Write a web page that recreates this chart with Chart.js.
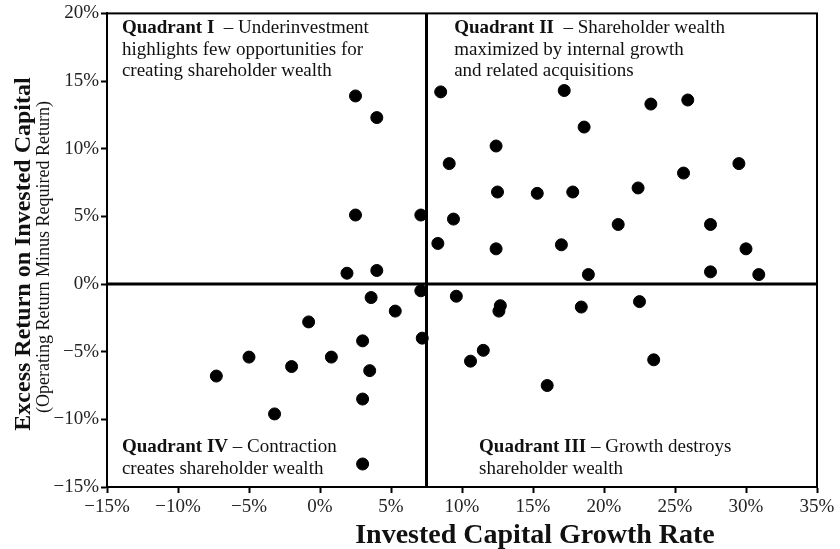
<!DOCTYPE html>
<html>
<head>
<meta charset="utf-8">
<script src="https://cdn.jsdelivr.net/npm/chart.js@4/dist/chart.umd.min.js"></script>
<style>
  body { margin: 0; background: #fff; }
</style>
</head>
<body>
<canvas id="quadrant-chart" width="840" height="549"></canvas>
<script>
// invested capital growth rate (%) and excess return (%), one entry per company
const growthRates = [
  2.5, 4.0, 2.5, 7.1, 1.9, 4.0,
  8.5, 17.2, 23.3, 25.9, 18.6, 12.4, 9.1, 29.5, 25.6, 12.5, 15.3, 17.8, 22.4,
  9.4, 21.0, 27.5, 8.3, 12.4, 17.0, 30.0, 18.9, 27.5, 30.9,
  9.6, 12.7, 12.6, 18.4, 22.5, 11.5, 10.6, 23.5, 16.0,
  7.1, 3.6, 5.3, -0.8, 3.0, 7.2, -5.0, 0.8, -2.0, 3.5, -7.3, 3.0, -3.2, 3.0
];
const excessReturns = [
  13.9, 12.3, 5.1, 5.1, 0.8, 1.0,
  14.2, 14.3, 13.3, 13.6, 11.6, 10.2, 8.9, 8.9, 8.2, 6.8, 6.7, 6.8, 7.1,
  4.8, 4.4, 4.4, 3.0, 2.6, 2.9, 2.6, 0.7, 0.9, 0.7,
  -0.9, -1.6, -2.0, -1.7, -1.3, -4.9, -5.7, -5.6, -7.5,
  -0.5, -1.0, -2.0, -2.8, -4.2, -4.0, -5.4, -5.4, -6.1, -6.4, -6.8, -8.5, -9.6, -13.3
];

const xTicks = [-15, -10, -5, 0, 5, 10, 15, 20, 25, 30, 35];
const yTicks = [-15, -10, -5, 0, 5, 10, 15, 20];

const xSplit = 7.5;   // vertical quadrant divider
const ySplit = 0;     // horizontal quadrant divider

const quadrantNotes = [
  { bold: 'Quadrant I', rest: ['  \u2013 Underinvestment', 'highlights few opportunities for', 'creating shareholder wealth'], x: -13.95, y: 18.55 },
  { bold: 'Quadrant II', rest: ['  \u2013 Shareholder wealth', 'maximized by internal growth', 'and related acquisitions'], x: 9.45, y: 18.55 },
  { bold: 'Quadrant IV', rest: [' \u2013 Contraction', 'creates shareholder wealth'], x: -13.95, y: -12.4 },
  { bold: 'Quadrant III', rest: [' \u2013 Growth destroys', 'shareholder wealth'], x: 11.2, y: -12.4 }
];

const points = growthRates.map((g, i) => ({ x: g, y: excessReturns[i] }));
const serif = '"Liberation Serif", "DejaVu Serif", serif';
const pct = v => (v < 0 ? '\u2212' + Math.abs(v) : v) + '%';

const quadrantPlugin = {
  id: 'quadrants',
  beforeDatasetsDraw(chart) {
    const { ctx, chartArea: a, scales } = chart;
    const px = scales.x.getPixelForValue(xSplit);
    const py = scales.y.getPixelForValue(ySplit);
    ctx.save();
    ctx.strokeStyle = '#000';
    ctx.lineWidth = 2;
    ctx.strokeRect(a.left, a.top, a.right - a.left, a.bottom - a.top);
    ctx.lineWidth = 3;
    ctx.beginPath();
    ctx.moveTo(px, a.top); ctx.lineTo(px, a.bottom);
    ctx.moveTo(a.left, py); ctx.lineTo(a.right, py);
    ctx.stroke();
    ctx.restore();
  },
  afterDraw(chart) {
    const { ctx, scales } = chart;
    ctx.save();
    ctx.fillStyle = '#111';
    ctx.textBaseline = 'alphabetic';
    ctx.textAlign = 'left';
    quadrantNotes.forEach(n => {
      const x = scales.x.getPixelForValue(n.x);
      let y = scales.y.getPixelForValue(n.y);
      ctx.font = 'bold 19px ' + serif;
      ctx.fillText(n.bold, x, y);
      const w = ctx.measureText(n.bold).width;
      ctx.font = '19px ' + serif;
      ctx.fillText(n.rest[0], x + w, y);
      for (let i = 1; i < n.rest.length; i++) {
        y += 21.7;
        ctx.fillText(n.rest[i], x, y);
      }
    });

    // axis titles
    ctx.textAlign = 'center';
    ctx.font = 'bold 28px ' + serif;
    ctx.fillText('Invested Capital Growth Rate', 535, 543);

    ctx.save();
    ctx.translate(30, 254);
    ctx.rotate(-Math.PI / 2);
    ctx.font = 'bold 24px ' + serif;
    ctx.fillText('Excess Return on Invested Capital', 0, 0);
    ctx.restore();
    ctx.save();
    ctx.translate(49, 257);
    ctx.rotate(-Math.PI / 2);
    ctx.font = '18px ' + serif;
    ctx.fillText('(Operating Return Minus Required Return)', 0, 0);
    ctx.restore();
    ctx.restore();
  }
};

const tickFont = { family: serif, size: 19 };

new Chart(document.getElementById('quadrant-chart'), {
  type: 'scatter',
  data: {
    datasets: [{
      data: points,
      backgroundColor: '#000',
      borderColor: '#000',
      pointRadius: 6,
      pointHoverRadius: 6
    }]
  },
  options: {
    responsive: false,
    animation: false,
    layout: { padding: { top: 12, right: 23, left: 0, bottom: 0 } },
    plugins: {
      legend: { display: false },
      tooltip: { enabled: false }
    },
    scales: {
      x: {
        type: 'linear',
        min: -15,
        max: 35,
        afterBuildTicks: s => { s.ticks = xTicks.map(v => ({ value: v })); },
        afterFit: s => { s.height = 62; },
        border: { display: true, color: '#000', width: 2 },
        grid: { drawOnChartArea: false, color: '#000', tickLength: 6, tickWidth: 2 },
        ticks: { color: '#222', font: tickFont, padding: 3, maxRotation: 0, callback: pct }
      },
      y: {
        type: 'linear',
        min: -15,
        max: 20,
        afterBuildTicks: s => { s.ticks = yTicks.map(v => ({ value: v })); },
        afterFit: s => { s.width = 107; },
        border: { display: true, color: '#000', width: 2 },
        grid: { drawOnChartArea: false, color: '#000', tickLength: 6, tickWidth: 2 },
        ticks: { color: '#222', font: tickFont, padding: 2, callback: pct }
      }
    }
  },
  plugins: [quadrantPlugin]
});
</script>
</body>
</html>
